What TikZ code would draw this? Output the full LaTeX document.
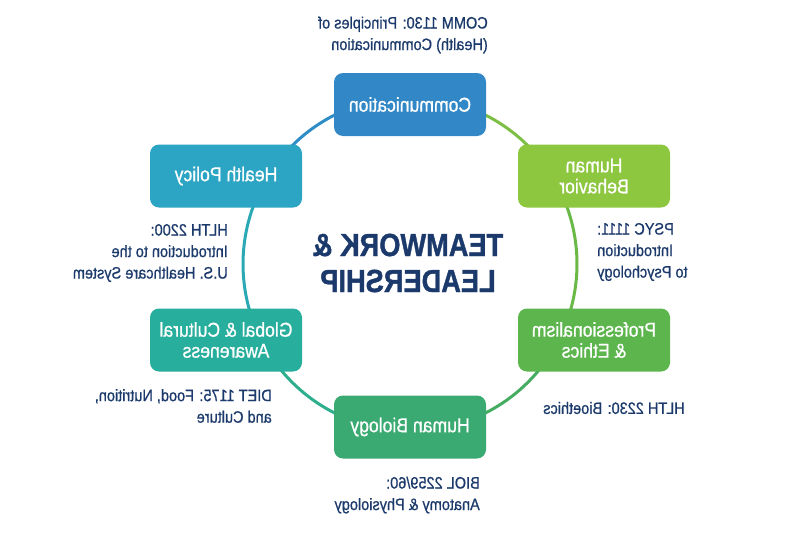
\documentclass[tikz,border=0pt]{standalone}
\usepackage{fontspec}
\setmainfont{Liberation Sans}
\newfontfamily\notefont{Liberation Sans}[FakeStretch=0.88, FakeBold=0.8]
\newfontfamily\titlefont{Liberation Sans Bold}[FakeStretch=0.85, FakeBold=1.2]
\definecolor{navy}{HTML}{1B3A6B}
\definecolor{commblue}{HTML}{3288C6}
\definecolor{policyblue}{HTML}{2BA5C3}
\definecolor{globalteal}{HTML}{27AE9C}
\definecolor{biogreen}{HTML}{3AAA72}
\definecolor{profgreen}{HTML}{5DB54E}
\definecolor{behavgreen}{HTML}{8DC63F}
% ring segments
\definecolor{ringa}{HTML}{2E8CC6}
\definecolor{ringb}{HTML}{7DBF45}
\definecolor{ringc}{HTML}{6AB947}
\definecolor{ringd}{HTML}{45AD62}
\definecolor{ringe}{HTML}{2DAE8C}
\definecolor{ringf}{HTML}{2AA9B5}

\begin{document}
\begin{tikzpicture}[x=1pt,y=-1pt,
  box/.style={rounded corners=9, minimum width=152, minimum height=63, text=white, align=center, font=\notefont\fontsize{20}{21}\selectfont},
  note/.style={text=navy, inner sep=0, font=\notefont\fontsize{16.5}{21.5}\selectfont},
  ring/.style={line width=3}]

\useasboundingbox (0,0) rectangle (800,533);

% the whole picture is mirrored
\begin{scope}[cm={-1,0,0,1,(800,0)}, transform shape]

% Ring
\coordinate (ctr) at (390,264);
\foreach \a/\col in {270/ringa, 210/ringb, 150/ringc, 90/ringd, 30/ringe, -30/ringf}
  \draw[ring, \col] (ctr) ++(\a:167) arc[start angle=\a, delta angle=60, radius=167];

% Boxes
\node[box, fill=commblue] (comm) at (390,104.5) {Communication};
\node[box, fill=behavgreen] (behav) at (206,176) {Human\\Behavior};
\node[box, fill=policyblue] (policy) at (574,176) {Health Policy};
\node[box, fill=profgreen] (prof) at (206,340) {Professionalism\\\& Ethics};
\node[box, fill=globalteal] (global) at (574,340) {Global \& Cultural\\Awareness};
\node[box, fill=biogreen] (bio) at (390,427) {Human Biology};

% Mitte
\node[text=navy, align=center, font=\titlefont\fontsize{32}{36}\selectfont] (title) at (392,263) {TEAMWORK \&\\LEADERSHIP};

% Kurse
\node[note, anchor=west, align=left] (commnote) at (312,35) {COMM 1130: Principles of\\(Health) Communication};
\node[note, anchor=east, align=right] (behavnote) at (203,252) {PSYC 1111:\\Introduction\\to Psychology};
\node[note, anchor=west, align=left] (policynote) at (572,253) {HLTH 2200:\\Introduction to the\\U.S. Healthcare System};
\node[note] (profnote) at (186,408) {HLTH 2230: Bioethics};
\node[note, anchor=west, align=left] (globalnote) at (528,406) {DIET 1175: Food, Nutrition,\\and Culture};
\node[note, anchor=west, align=left] (bionote) at (320,495) {BIOL 2259/60:\\Anatomy \& Physiology};

\end{scope}
\end{tikzpicture}
\end{document}
